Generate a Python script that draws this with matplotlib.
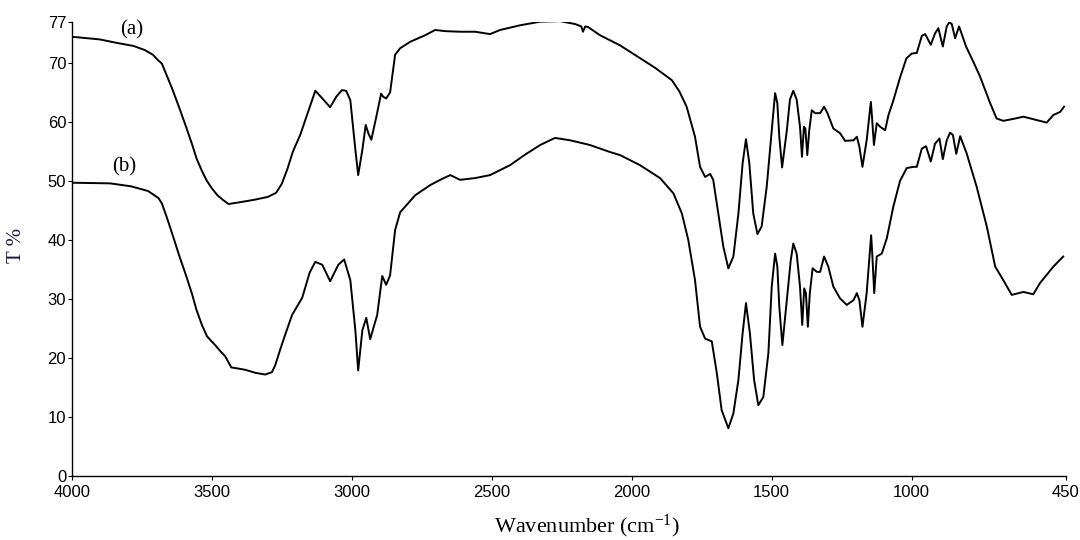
import matplotlib
matplotlib.use('Agg')
from matplotlib import pyplot as plt
import numpy as np

# FTIR transmittance spectra, wavenumber (cm-1) vs T %
wn_a = [4000, 3988, 3900, 3838, 3780, 3739, 3710, 3690, 3678, 3660, 3640, 3615,
        3591, 3570, 3554, 3535, 3517, 3500, 3480, 3460, 3440, 3400, 3350, 3300,
        3270, 3250, 3230, 3210, 3184, 3150, 3130,
        3105, 3077, 3055, 3035, 3020, 3005, 2987, 2977, 2962, 2950, 2940, 2930,
        2913, 2895, 2888, 2877, 2863, 2845, 2827, 2791, 2738, 2702, 2666, 2613,
        2559, 2506, 2470, 2398, 2327, 2256, 2202, 2180, 2174, 2166, 2156, 2113,
        2042, 1970, 1917, 1857, 1830, 1804, 1774, 1756, 1738, 1720, 1709, 1691, 1673,
        1655, 1637, 1619, 1604, 1592, 1580, 1566, 1551, 1536, 1518, 1500, 1488,
        1480, 1473, 1463, 1446, 1435, 1423, 1411, 1399, 1392, 1385, 1380, 1373,
        1366, 1357, 1345, 1327, 1313, 1301, 1280, 1256, 1238, 1208, 1196, 1187,
        1176, 1161, 1146, 1142, 1135, 1125, 1113, 1095, 1083, 1066, 1042, 1019,
        1000, 982, 964, 952, 932, 917, 905, 889, 875, 866, 857, 845, 831, 806,
        780, 756, 720, 697, 673, 640, 601, 560, 518, 494, 470, 456]
t_a = [74.4, 74.4, 74.0, 73.4, 72.9, 72.2, 71.4, 70.4, 69.9, 67.8, 65.5, 62.3,
       59.1, 56.2, 53.8, 51.7, 50.0, 48.8, 47.6, 46.8, 46.1, 46.4, 46.8, 47.3,
       48.0, 49.5, 52.0, 55.0, 57.8, 62.5, 65.3,
       64.0, 62.5, 64.3, 65.4, 65.3, 63.7, 55.3, 51.0, 55.3, 59.5, 58.0, 57.0,
       60.7, 64.8, 64.3, 64.0, 65.0, 71.4, 72.5, 73.6, 74.7, 75.6, 75.4, 75.3,
       75.3, 74.9, 75.6, 76.4, 77.0, 77.1, 76.6, 76.2, 75.3, 76.2, 76.1, 74.7,
       73.0, 70.8, 69.2, 67.1, 65.2, 62.6, 57.5, 52.4, 50.7, 51.2, 50.2, 44.5, 38.9,
       35.2, 37.2, 44.5, 53.0, 57.1, 53.0, 44.5, 41.0, 42.3, 49.0, 58.6, 64.9,
       63.2, 57.5, 52.3, 58.6, 63.8, 65.3, 63.8, 59.2, 54.1, 59.2, 58.9, 54.4,
       58.6, 62.0, 61.5, 61.5, 62.6, 61.5, 58.9, 58.1, 56.8, 56.9, 57.5, 55.8,
       52.4, 56.9, 63.4, 60.9, 56.1, 59.8, 59.2, 58.6, 61.2, 63.6, 67.5, 70.8,
       71.6, 71.7, 74.6, 74.9, 73.1, 75.0, 75.9, 72.8, 76.2, 76.9, 76.6, 74.2,
       76.2, 72.8, 70.2, 67.7, 63.2, 60.6, 60.2, 60.5, 60.9, 60.4, 59.9, 61.2,
       61.7, 62.6]

wn_b = [4000, 3988, 3863, 3788, 3727, 3690, 3678, 3660, 3640, 3615, 3591, 3570,
        3554, 3535, 3517, 3500, 3488, 3470, 3452, 3430, 3416, 3380, 3345, 3309,
        3285, 3273, 3255, 3238, 3213, 3177, 3150, 3130,
        3105, 3077, 3048, 3027, 3005, 2987, 2977, 2962, 2948, 2934, 2909, 2891,
        2877, 2863, 2845, 2827, 2773, 2720, 2684, 2648, 2613, 2559, 2506, 2434,
        2380, 2327, 2274, 2220, 2149, 2077, 2042, 1971, 1899, 1851, 1821, 1798, 1774,
        1756, 1738, 1714, 1696, 1679, 1655, 1637, 1619, 1604, 1592, 1578, 1563,
        1548, 1530, 1512, 1500, 1488, 1480, 1473, 1462, 1446, 1432, 1423, 1411,
        1399, 1391, 1384, 1378, 1371, 1364, 1354, 1339, 1327, 1313, 1298, 1280,
        1256, 1232, 1208, 1196, 1187, 1176, 1161, 1145, 1141, 1134, 1125, 1107,
        1089, 1066, 1042, 1018, 994, 982, 964, 949, 932, 917, 901, 889, 875,
        863, 853, 841, 827, 804, 768, 732, 702, 673, 643, 601, 566, 542, 494,
        459]
t_b = [49.7, 49.7, 49.6, 49.1, 48.3, 47.1, 46.2, 43.8, 40.9, 37.2, 33.9, 30.8,
       28.1, 25.6, 23.7, 22.8, 22.2, 21.2, 20.3, 18.4, 18.3, 18.0, 17.5, 17.2,
       17.6, 18.8, 21.5, 23.9, 27.3, 30.2, 34.5, 36.3,
       35.8, 33.0, 35.8, 36.7, 33.2, 24.7, 17.9, 24.7, 26.8, 23.2, 27.3, 33.9,
       32.4, 34.0, 41.7, 44.7, 47.6, 49.3, 50.2, 51.0, 50.2, 50.5, 51.0, 52.7,
       54.5, 56.1, 57.3, 56.9, 56.1, 54.9, 54.4, 52.7, 50.5, 47.9, 44.5, 40.0, 33.2,
       25.3, 23.3, 22.8, 17.4, 11.2, 8.1, 10.6, 16.3, 24.2, 29.3, 24.2, 16.3,
       12.0, 13.4, 20.8, 32.1, 37.7, 35.5, 28.7, 22.2, 29.8, 36.6, 39.4, 37.7,
       32.1, 25.6, 31.8, 31.0, 25.3, 31.0, 35.2, 34.6, 34.6, 37.2, 35.5, 32.1,
       30.1, 29.0, 29.8, 31.0, 29.8, 25.3, 31.0, 40.8, 37.7, 31.0, 37.2, 37.7,
       40.3, 45.6, 50.0, 52.2, 52.4, 52.4, 55.5, 55.9, 53.3, 56.3, 57.2, 53.7,
       56.9, 58.2, 57.8, 54.6, 57.6, 54.7, 49.0, 42.3, 35.5, 33.2, 30.7, 31.2,
       30.8, 32.7, 35.5, 37.2]

y_ticks = [0, 10, 20, 30, 40, 50, 60, 70, 77]
x_ticks = [4000, 3500, 3000, 2500, 2000, 1500, 1000, 450]

plt.rcParams['font.family'] = 'Liberation Sans'
plt.rcParams['mathtext.fontset'] = 'custom'
plt.rcParams['mathtext.rm'] = 'Liberation Serif'
plt.rcParams['mathtext.it'] = 'Liberation Serif:italic'

fig = plt.figure(figsize=(10.8, 5.4), dpi=100)
ax = fig.add_axes([0.0664, 0.1185, 0.9204, 0.8413])

ax.plot(wn_a, t_a, color='black', linewidth=1.4)
ax.plot(wn_b, t_b, color='black', linewidth=1.4)

ax.set_xlim(4000, 450)
ax.set_ylim(0, 77)
ax.set_xticks(x_ticks)
ax.set_yticks(y_ticks)
ax.tick_params(direction='out', length=3, width=0.8, labelsize=12)
ax.tick_params(axis='x', pad=3.5)
ax.tick_params(axis='y', pad=1)
for side in ['top', 'right']:
    ax.spines[side].set_visible(False)
for side in ['left', 'bottom']:
    ax.spines[side].set_linewidth(1.0)

ax.set_xlabel('Wavenumber (cm$^{-1}$)', family='Liberation Serif', fontsize=16)
ax.xaxis.set_label_coords(0.5185, -0.08)
ax.set_ylabel('T %', family='Liberation Serif', fontsize=15, color='#1a1a40')
ax.yaxis.set_label_coords(-0.046, 0.508)

ax.text(3827, 74.9, '(a)', family='Liberation Serif', fontsize=15)
ax.text(3855, 51.6, '(b)', family='Liberation Serif', fontsize=15)

plt.savefig('out.png', dpi=100)
